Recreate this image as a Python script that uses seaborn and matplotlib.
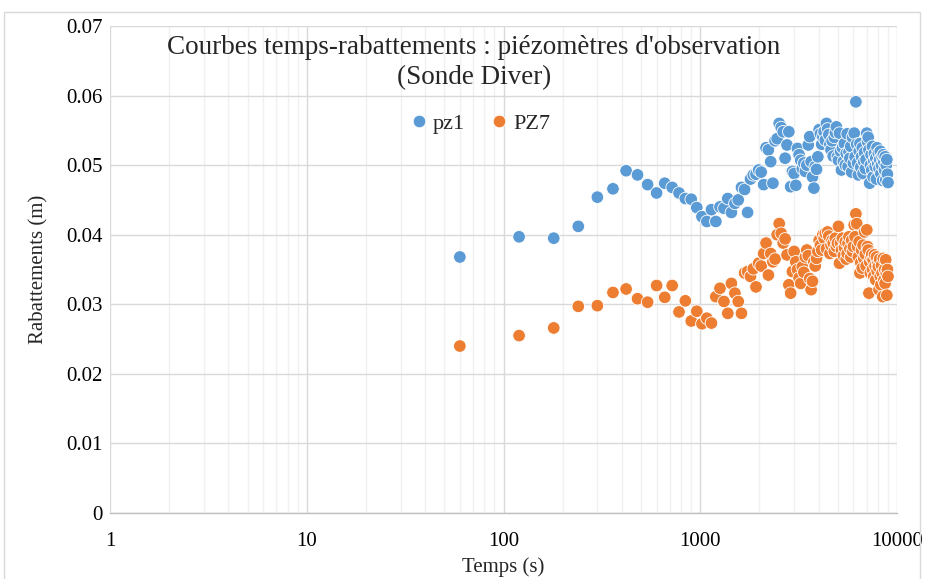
import numpy as np
import pandas as pd
import matplotlib
matplotlib.use("Agg")
import matplotlib.pyplot as plt
import matplotlib.ticker as mticker
from matplotlib.patches import Rectangle
import seaborn as sns

# Sampling times of the Diver probes (s), one reading every 60 s
temps = [60 * i for i in range(1, 151)]

# Drawdown at piezometer pz1 (m)
pz1 = [
    0.0368, 0.0397, 0.0395, 0.0412, 0.0454, 0.0466, 0.0492, 0.0486, 0.0472, 0.0460,
    0.0474, 0.0468, 0.0460, 0.0452, 0.0451, 0.0439, 0.0426, 0.0419, 0.0436, 0.0419,
    0.0440, 0.0438, 0.0452, 0.0432, 0.0445, 0.0450, 0.0468, 0.0465, 0.0432, 0.0480,
    0.0486, 0.0487, 0.0493, 0.0490, 0.0472, 0.0525, 0.0522, 0.0505, 0.0474, 0.0535,
    0.0538, 0.0560, 0.0554, 0.0548, 0.0510, 0.0529, 0.0548, 0.0469, 0.0491, 0.0488,
    0.0471, 0.0524, 0.0515, 0.0507, 0.0495, 0.0503, 0.0491, 0.0500, 0.0529, 0.0541,
    0.0505, 0.0483, 0.0467, 0.0498, 0.0494, 0.0512, 0.0551, 0.0545, 0.0530, 0.0541,
    0.0548, 0.0536, 0.0560, 0.0552, 0.0544, 0.0530, 0.0522, 0.0535, 0.0513, 0.0540,
    0.0547, 0.0555, 0.0512, 0.0507, 0.0546, 0.0520, 0.0493, 0.0525, 0.0505, 0.0531,
    0.0500, 0.0517, 0.0545, 0.0498, 0.0519, 0.0510, 0.0527, 0.0490, 0.0540, 0.0503,
    0.0546, 0.0512, 0.0591, 0.0530, 0.0503, 0.0486, 0.0520, 0.0531, 0.0497, 0.0512,
    0.0525, 0.0488, 0.0505, 0.0518, 0.0495, 0.0508, 0.0546, 0.0534, 0.0540, 0.0522,
    0.0474, 0.0500, 0.0515, 0.0493, 0.0527, 0.0483, 0.0506, 0.0517, 0.0498, 0.0510,
    0.0480, 0.0525, 0.0502, 0.0517, 0.0495, 0.0508, 0.0520, 0.0488, 0.0500, 0.0512,
    0.0478, 0.0515, 0.0505, 0.0493, 0.0512, 0.0479, 0.0500, 0.0508, 0.0487, 0.0475,
]

# Drawdown at piezometer PZ7 (m)
pz7 = [
    0.0240, 0.0255, 0.0266, 0.0297, 0.0298, 0.0317, 0.0322, 0.0308, 0.0303, 0.0327,
    0.0310, 0.0327, 0.0289, 0.0305, 0.0276, 0.0290, 0.0272, 0.0280, 0.0273, 0.0311,
    0.0323, 0.0304, 0.0287, 0.0330, 0.0316, 0.0304, 0.0287, 0.0345, 0.0347, 0.0340,
    0.0351, 0.0325, 0.0359, 0.0355, 0.0373, 0.0388, 0.0342, 0.0373, 0.0361, 0.0365,
    0.0400, 0.0416, 0.0402, 0.0388, 0.0394, 0.0371, 0.0328, 0.0316, 0.0347, 0.0376,
    0.0361, 0.0350, 0.0338, 0.0330, 0.0354, 0.0346, 0.0368, 0.0378, 0.0370, 0.0337,
    0.0321, 0.0333, 0.0361, 0.0355, 0.0366, 0.0376, 0.0392, 0.0385, 0.0378, 0.0400,
    0.0395, 0.0402, 0.0380, 0.0404, 0.0398, 0.0373, 0.0385, 0.0392, 0.0388, 0.0376,
    0.0395, 0.0383, 0.0388, 0.0412, 0.0359, 0.0388, 0.0378, 0.0395, 0.0370, 0.0382,
    0.0390, 0.0365, 0.0373, 0.0388, 0.0397, 0.0380, 0.0368, 0.0392, 0.0376, 0.0383,
    0.0414, 0.0397, 0.0430, 0.0416, 0.0383, 0.0368, 0.0390, 0.0345, 0.0360, 0.0378,
    0.0352, 0.0385, 0.0366, 0.0404, 0.0372, 0.0355, 0.0407, 0.0383, 0.0378, 0.0316,
    0.0361, 0.0345, 0.0368, 0.0372, 0.0350, 0.0364, 0.0340, 0.0371, 0.0355, 0.0335,
    0.0368, 0.0348, 0.0358, 0.0354, 0.0321, 0.0365, 0.0340, 0.0328, 0.0356, 0.0345,
    0.0311, 0.0366, 0.0335, 0.0350, 0.0330, 0.0364, 0.0345, 0.0313, 0.0350, 0.0340,
]

series_names = ["pz1", "PZ7"]
series_colors = ["#5B9BD5", "#ED7D31"]
y_ticks = [0, 0.01, 0.02, 0.03, 0.04, 0.05, 0.06, 0.07]
x_ticks = [1, 10, 100, 1000, 10000]
x_tick_labels = ["1", "10", "100", "1000", "10000"]

df = pd.DataFrame({
    "Temps": temps * 2,
    "Rabattement": pz1 + pz7,
    "Piezometre": [series_names[0]] * len(pz1) + [series_names[1]] * len(pz7),
})

sns.set_theme(style="white")
plt.rcParams["font.family"] = ["Liberation Serif", "DejaVu Serif"]

fig = plt.figure(figsize=(9.26, 5.79), dpi=100)
ax = fig.add_axes([110 / 926, 1 - 513 / 579, 787 / 926, 487 / 579])

# Light chart-area frame
fig.patches.append(Rectangle((4 / 926, -0.1), 916 / 926, 1.1 - 12 / 579,
                             transform=fig.transFigure, fill=False,
                             edgecolor="#d9d9d9", linewidth=1.0, zorder=0))

sns.scatterplot(data=df, x="Temps", y="Rabattement", hue="Piezometre",
                hue_order=series_names, palette=series_colors,
                s=82, edgecolor="white", linewidth=0.6, ax=ax, zorder=3)

ax.set_xscale("log")
ax.set_xlim(1, 10000)
ax.set_ylim(0, 0.07)
ax.set_xticks(x_ticks)
ax.set_xticklabels(x_tick_labels)
ax.xaxis.set_minor_locator(mticker.LogLocator(base=10, subs=np.arange(2, 10)))
ax.xaxis.set_minor_formatter(mticker.NullFormatter())
ax.set_yticks(y_ticks)
ax.set_yticklabels(["0" if v == 0 else f"{v:.2f}" for v in y_ticks])

ax.grid(which="major", axis="both", color="#d9d9d9", linewidth=1.0, zorder=0)
ax.grid(which="minor", axis="x", color="#f0f0f0", linewidth=1.0, zorder=0)
ax.set_axisbelow(True)
for side in ["top", "right", "left"]:
    ax.spines[side].set_visible(False)
ax.spines["bottom"].set_color("#bfbfbf")
ax.spines["bottom"].set_linewidth(1.0)

ax.tick_params(axis="both", which="both", length=0, labelsize=15, colors="#000000")
ax.tick_params(axis="x", pad=14)
ax.tick_params(axis="y", pad=5)

ax.set_xlabel("Temps (s)", fontsize=15, labelpad=4)
ax.set_ylabel("Rabattements (m)", fontsize=15, labelpad=13)

ax.text(0.4625, 0.925, "Courbes temps-rabattements : piézomètres d'observation\n(Sonde Diver)",
        transform=ax.transAxes, ha="center", va="center", fontsize=19.5, linespacing=1.25)

leg = ax.legend(loc="center", bbox_to_anchor=(0.47, 0.80), ncol=2, frameon=False,
                fontsize=16, handlelength=0.8, handletextpad=0.25, columnspacing=1.1,
                markerscale=1.0)
for h in leg.legend_handles:
    h.set_markeredgecolor("white")

fig.savefig("out.png", dpi=100)
